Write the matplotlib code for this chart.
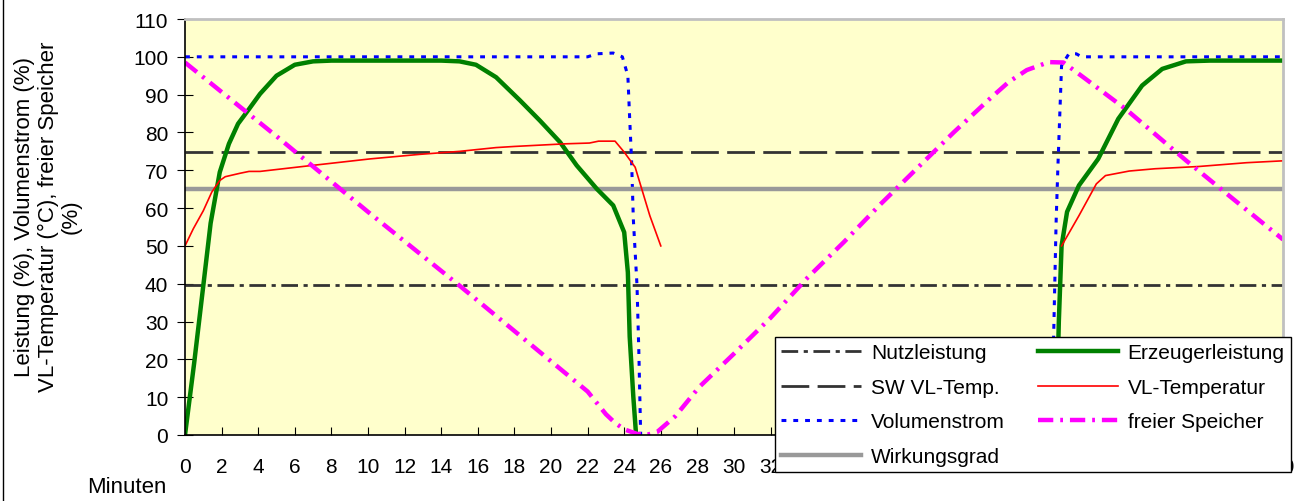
import numpy as np
import matplotlib
matplotlib.use("Agg")
import matplotlib.pyplot as plt
from matplotlib.lines import Line2D

plt.rcParams['font.family'] = ['Liberation Sans', 'DejaVu Sans']
plt.rcParams['lines.scale_dashes'] = False

nan = float('nan')

# Erzeugerleistung (green)
erz_x = [0, 0.5, 1.0, 1.4, 1.9, 2.4, 2.9, 3.5, 4.1, 5.0, 6.0, 7.0, 8, 10, 12, 14, 15,
         15.9, 17.0, 18.3, 19.4, 20.5, 21.4, 22.5, 23.4, 24.0, 24.2, 24.3, 24.5, 24.65,
         nan, 47.6, 47.75, 47.9, 48.2, 48.85, 49.9, 51.0, 52.3, 53.4, 54.7, 56, 58, 60]
erz_y = [0, 19, 39.5, 56, 69.5, 77, 82.3, 86.2, 90.2, 95, 97.9, 98.8, 99, 99, 99, 99, 98.8,
         97.9, 94.6, 88.5, 83.1, 77.4, 71.3, 65.1, 60.7, 53.6, 43, 26, 10, 0,
         nan, 0, 30, 50, 59, 66, 73, 83.6, 92.4, 96.8, 98.8, 99, 99, 99]

# VL-Temperatur (red)
vlt_x = [0, 0.45, 1.0, 1.46, 1.9, 2.2, 3.0, 3.5, 4.1, 6.8, 10.1, 12.8, 15, 17, 18, 20.8,
         22.1, 22.6, 23.5, 24.0, 24.6, 24.9, 25.4, 26.0,
         nan, 47.9, 48.85, 49.8, 50.3, 51.6, 53.0, 55.4, 58, 60]
vlt_y = [50, 54.5, 59.3, 64.2, 67.3, 68.3, 69.2, 69.7, 69.7, 71.2, 73, 74.2, 75, 76, 76.3, 77,
         77.2, 77.7, 77.7, 74.8, 70.8, 66, 58, 50,
         nan, 50, 58, 66.4, 68.6, 69.8, 70.4, 71, 72, 72.5]

# Volumenstrom (blue)
vol_x = [0, 22.0, 22.5, 23.4, 23.9, 24.2, 24.3, 24.4, 24.5, 24.7, 24.8, 24.9,
         nan, 47.35, 47.6, 47.7, 47.9, 48.3, 48.7, 49.0, 60]
vol_y = [100, 100, 100.8, 101, 100, 95, 83.6, 73, 57, 39.5, 22, 0,
         nan, 0, 56, 71, 97.7, 100.8, 100.8, 100, 100]

# freier Speicher (magenta)
spe_x = [0, 5, 10, 15, 20, 22, 23, 23.5, 24, 24.7, 25.2, 25.8, 26.8, 28.1, 30, 32, 34, 36,
         38, 40, 42, 44, 45, 46, 47.2, 48, 49.2, 51.4, 54.7, 57, 60]
spe_y = [98.5, 79, 59, 39.5, 19.5, 11.5, 5.5, 3.2, 1.5, 0.3, 0, 0.8, 5, 12.7, 21.5, 31, 41.5, 51,
         61, 70.5, 80, 89, 93.3, 96.5, 98.6, 98.5, 94.2, 86.2, 72.6, 63.5, 51.7]

# constant lines
nutzleistung = 39.7
sw_vl_temp = 74.7
wirkungsgrad = 65

x_ticks = list(range(0, 61, 2))
y_ticks = list(range(0, 111, 10))

fig = plt.figure(figsize=(13.03, 5.02), dpi=100)
ax = fig.add_axes([185 / 1303, 66 / 502, 1098 / 1303, 416 / 502])
ax.set_facecolor('#FFFFCC')

ax.axhline(nutzleistung, color='#333333', lw=2, dashes=(12, 4, 3, 4), label='Nutzleistung')
ax.axhline(sw_vl_temp, color='#333333', lw=2, dashes=(20, 6), label='SW VL-Temp.')
ax.plot(vol_x, vol_y, color='#0000FF', lw=2.2, dashes=(3.5, 5), label='Volumenstrom')
ax.axhline(wirkungsgrad, color='#999999', lw=3.2, label='Wirkungsgrad')
ax.plot(erz_x, erz_y, color='#008000', lw=3.2, label='Erzeugerleistung')
ax.plot(vlt_x, vlt_y, color='#FF0000', lw=1.2, label='VL-Temperatur')
ax.plot(spe_x, spe_y, color='#FF00FF', lw=3.2, dashes=(11, 5, 2, 5), label='freier Speicher')

ax.set_xlim(0, 60)
ax.set_ylim(0, 110)
ax.set_xticks(x_ticks)
ax.set_yticks(y_ticks)
ax.tick_params(axis='x', direction='in', length=6, pad=16, labelsize=15)
ax.tick_params(axis='y', direction='inout', length=12, pad=6, labelsize=15)

for s in ['left', 'bottom']:
    ax.spines[s].set_color('black')
    ax.spines[s].set_linewidth(1.2)
for s in ['top', 'right']:
    ax.spines[s].set_color('#C0C0C0')
    ax.spines[s].set_linewidth(2)

fig.text(48 / 1303, 0.568,
         "Leistung (%), Volumenstrom (%)\nVL-Temperatur (°C), freier Speicher\n(%)",
         rotation=90, ha='center', va='center', fontsize=16, linespacing=1.15)
fig.text(127 / 1303, 14 / 502, "Minuten", ha='center', va='center', fontsize=16)

leg = fig.legend(loc='upper left', bbox_to_anchor=(775 / 1303, 1 - 338 / 502), ncol=2,
                 fontsize=15, frameon=True, fancybox=False, shadow=False,
                 handlelength=3.85, handletextpad=0.45, labelspacing=0.75,
                 columnspacing=1.6, borderpad=0.3, borderaxespad=0)
leg.get_frame().set_edgecolor('black')
leg.get_frame().set_linewidth(1)
leg.get_frame().set_facecolor('white')
leg.get_frame().set_alpha(1)

fig.add_artist(Line2D([3 / 1303, 3 / 1303], [0, 1], transform=fig.transFigure,
                      color='black', lw=1))

fig.savefig('out.png', dpi=100)
